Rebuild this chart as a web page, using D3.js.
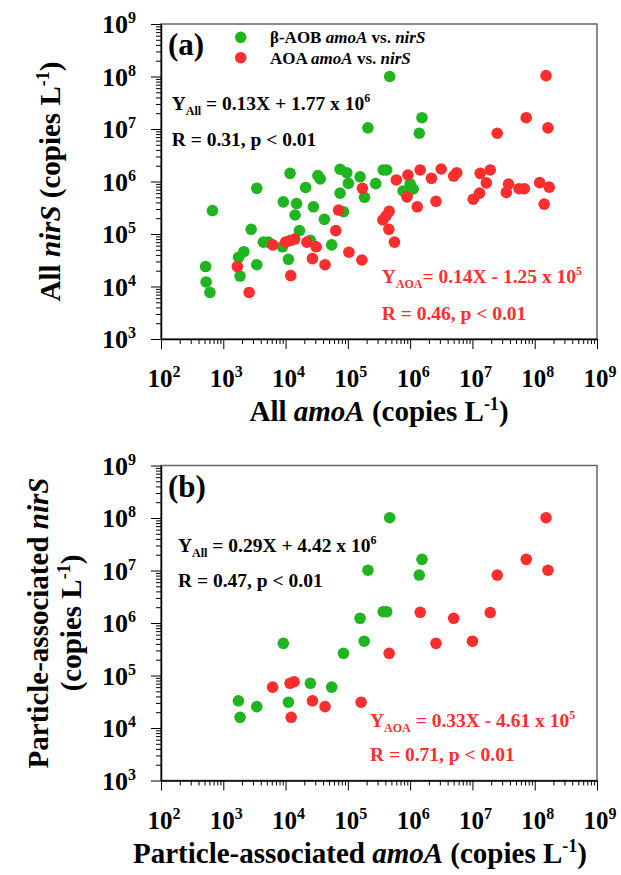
<!DOCTYPE html>
<html>
<head>
<meta charset="utf-8">
<script src="https://cdn.jsdelivr.net/npm/d3@7"></script>
<style>
  body { margin: 0; background: #fff; }
  svg { display: block; }
  svg text { font-family: "Liberation Serif", "Times New Roman", Tinos, "DejaVu Serif", serif; font-weight: bold; }
</style>
</head>
<body>
<div id="chart"></div>
<script>
// (a) all amoA vs. all nirS (copies per litre)
const aobAllX = [4.7e5, 1.55e6, 2.1e5, 1.4e6, 1.18e4, 3.3e4, 3.6e4, 7.5e4, 9.6e4, 1.02e5,
  1.57e5, 2.8e5, 3.7e5, 4.2e5, 3.45e3, 2.1e4, 7.5e4, 1.85e5, 6.7e2, 9.2e3,
  1.5e4, 2.8e4, 1.42e4, 8.5e4, 4.2e4, 2.8e3, 1.67e4, 4.4e3, 5.3e3, 8.9e3,
  2.5e4, 5.5e4, 2.14e3, 1.76e3, 1.11e4, 3.45e3, 5.2e2, 5.3e2, 6.1e2, 1.86e3,
  7.7e5, 1.0e6, 1.12e6, 9.0e5];
const aobAllY = [1.0e8, 1.64e7, 1.05e7, 8.3e6, 1.43e6, 1.3e6, 1.12e6, 1.71e6, 1.47e6, 9.2e5,
  1.23e6, 9.1e5, 1.66e6, 1.66e6, 7.4e5, 7.7e5, 6.0e5, 5.0e5, 2.8e5, 4.1e5,
  3.8e5, 3.3e5, 2.3e5, 2.66e5, 1.9e5, 1.23e5, 1.16e5, 7.0e4, 7.0e4, 5.7e4,
  7.6e4, 6.2e4, 4.6e4, 3.6e4, 3.3e4, 2.6e4, 2.4e4, 1.22e4, 7.7e3, 1.58e4,
  6.6e5, 9.0e5, 7.2e5, 5.8e5];
const aoaAllX = [1.52e8, 7.3e7, 1.63e8, 2.5e7, 6.0e5, 9.2e5, 1.45e6, 2.2e6, 3.15e6, 5.0e6,
  5.6e6, 1.33e7, 1.93e7, 1.67e7, 3.8e7, 3.5e7, 5.6e7, 6.8e7, 1.2e8, 1.71e8,
  1.42e8, 1.3e7, 1.03e7, 8.9e5, 1.3e6, 2.6e6, 4.6e5, 4.1e5, 3.65e5, 4.55e5,
  5.6e5, 1.71e5, 7.1e4, 6.4e4, 1.04e5, 1.68e5, 4.3e4, 2.7e4, 3.1e4, 2.2e4,
  1.0e4, 1.19e4, 1.4e4, 6.2e3, 1.21e4, 1.68e3, 2.6e3];
const aoaAllY = [1.04e8, 1.64e7, 1.05e7, 8.3e6, 1.07e6, 1.33e6, 1.66e6, 1.15e6, 1.73e6, 1.27e6,
  1.47e6, 1.43e6, 1.66e6, 9.4e5, 8.9e5, 6.2e5, 7.3e5, 7.3e5, 9.5e5, 7.8e5,
  3.7e5, 6.0e5, 4.6e5, 5.1e5, 3.3e5, 4.2e5, 2.7e5, 2.2e5, 1.85e5, 1.23e5,
  7.0e4, 7.4e5, 2.86e5, 1.16e5, 4.5e4, 3.2e4, 2.6e4, 3.4e4, 5.7e4, 7.0e4,
  7.0e4, 7.5e4, 8.0e4, 6.2e4, 1.61e4, 2.4e4, 7.7e3];

// (b) particle-associated amoA vs. nirS
const aobPaX = [4.7e5, 1.55e6, 2.1e5, 1.4e6, 1.57e5, 3.7e5, 4.2e5, 9.2e3, 1.83e5, 8.5e4,
  2.5e4, 5.5e4, 1.75e3, 3.45e3, 1.11e4, 1.86e3];
const aobPaY = [1.01e8, 1.63e7, 1.01e7, 8.2e6, 1.23e6, 1.64e6, 1.64e6, 4.1e5, 4.5e5, 2.65e5,
  7.1e4, 6.0e4, 3.3e4, 2.55e4, 3.1e4, 1.6e4];
const aoaPaX = [1.52e8, 7.3e7, 1.63e8, 2.5e7, 1.45e6, 5.0e6, 1.93e7, 2.6e6, 1.0e7, 4.6e5,
  6.2e3, 1.18e4, 1.37e4, 2.7e4, 4.3e4, 1.23e4, 1.63e5];
const aoaPaY = [1.01e8, 1.63e7, 1.01e7, 8.2e6, 1.6e6, 1.23e6, 1.58e6, 4.1e5, 4.5e5, 2.65e5,
  6.0e4, 7.1e4, 7.6e4, 3.3e4, 2.55e4, 1.6e4, 3.1e4];

const xDecades = [2, 3, 4, 5, 6, 7, 8, 9];
const yDecades = [3, 4, 5, 6, 7, 8, 9];

const green = "#1fb51f";
const red = "#ff2e2e";
const width = 621;
const height = 875;
const radius = 5.8;
const serif = "'Liberation Serif', 'Times New Roman', Tinos, 'DejaVu Serif', serif";

const svg = d3.select("#chart").append("svg")
  .attr("width", width)
  .attr("height", height)
  .attr("font-family", serif)
  .attr("font-weight", "bold");

const x = d3.scaleLog().domain([1e2, 1e9]).range([161, 597]);

function power(text, exp, supSize, lift) {
  text.append("tspan").text("10");
  text.append("tspan").attr("font-size", supSize).attr("dy", -lift).text(exp);
}

function renderPanel({ top, label, aob, aoa, eqAll, eqAoa, legend, yTitle, xTitle }) {
  const bottom = top + 315;
  const y = d3.scaleLog().domain([1e3, 1e9]).range([bottom, top]);
  const g = svg.append("g");
  const isMajor = (d) => Math.abs(Math.log10(d) - Math.round(Math.log10(d))) < 1e-9;

  // frame: grey top/right, black axes
  g.append("rect")
    .attr("x", x.range()[0]).attr("y", top)
    .attr("width", x.range()[1] - x.range()[0]).attr("height", bottom - top)
    .attr("fill", "none").attr("stroke", "#666").attr("stroke-width", 1.5);

  const xAxisG = g.append("g")
    .attr("transform", `translate(0,${bottom})`)
    .call(d3.axisBottom(x).tickValues(x.ticks()).tickFormat("").tickSizeInner(5).tickSizeOuter(0));
  const yAxisG = g.append("g")
    .attr("transform", `translate(${x.range()[0]},0)`)
    .call(d3.axisLeft(y).tickValues(y.ticks()).tickFormat("").tickSizeInner(5).tickSizeOuter(0));
  [xAxisG, yAxisG].forEach((a) => {
    a.select(".domain").attr("stroke", "#000").attr("stroke-width", 1.5);
    a.selectAll(".tick line").attr("stroke", "#000").attr("stroke-width", 1);
  });
  xAxisG.selectAll(".tick").filter(isMajor).select("line").attr("y2", 10);
  yAxisG.selectAll(".tick").filter(isMajor).select("line").attr("x2", -10);

  xDecades.forEach((e) => {
    const t = g.append("text")
      .attr("x", x(Math.pow(10, e)) + 3).attr("y", bottom + 48)
      .attr("text-anchor", "middle").attr("font-size", 25);
    power(t, e, 16, 10);
  });
  yDecades.forEach((e) => {
    const t = g.append("text")
      .attr("x", 136).attr("y", y(Math.pow(10, e)) + 9)
      .attr("text-anchor", "end").attr("font-size", 26);
    power(t, e, 16, 10);
  });

  // points
  g.append("g").selectAll("circle")
    .data(d3.zip(aob.x, aob.y))
    .join("circle")
    .attr("cx", (d) => x(d[0])).attr("cy", (d) => y(d[1]))
    .attr("r", radius).attr("fill", green);
  g.append("g").selectAll("circle")
    .data(d3.zip(aoa.x, aoa.y))
    .join("circle")
    .attr("cx", (d) => x(d[0])).attr("cy", (d) => y(d[1]))
    .attr("r", radius).attr("fill", red);

  g.append("text")
    .attr("x", 168).attr("y", top + 31)
    .attr("font-size", 31).text(label);

  if (legend) {
    const rows = [
      { color: green, pre: "\u03b2-AOB " },
      { color: red, pre: "AOA " },
    ];
    rows.forEach((r, i) => {
      const cy = top + 13.3 + i * 20.4;
      g.append("circle").attr("cx", 240.7).attr("cy", cy).attr("r", radius).attr("fill", r.color);
      const t = g.append("text").attr("x", 270).attr("y", cy + 6).attr("font-size", 17);
      t.append("tspan").text(r.pre);
      t.append("tspan").attr("font-style", "italic").text("amoA");
      t.append("tspan").text(" vs. ");
      t.append("tspan").attr("font-style", "italic").text("nirS");
    });
  }

  [eqAll, eqAoa].forEach((eq) => {
    const t = g.append("text")
      .attr("x", eq.x).attr("y", eq.y)
      .attr("font-size", 19.5).attr("fill", eq.color);
    t.append("tspan").text("Y");
    t.append("tspan").attr("font-size", 12).attr("dy", 5).text(eq.sub);
    t.append("tspan").attr("dy", -5).text(eq.body);
    t.append("tspan").attr("font-size", 12).attr("dy", -8).text(eq.exp);
    g.append("text")
      .attr("x", eq.x).attr("y", eq.y + eq.gap)
      .attr("font-size", 19.5).attr("fill", eq.color)
      .text(eq.r);
  });

  // axis titles
  const yt = g.append("text")
    .attr("text-anchor", "middle").attr("font-size", 29)
    .attr("transform", `translate(${yTitle.x},${(top + bottom) / 2})rotate(-90)`);
  yTitle.lines.forEach((line, i) => {
    const ts = yt.append("tspan").attr("x", 0).attr("dy", i === 0 ? 0 : yTitle.lineGap);
    line.forEach((part) => {
      const p = ts.append("tspan").text(part.t);
      if (part.i) p.attr("font-style", "italic");
      if (part.sup) p.attr("font-size", 18).attr("dy", -11);
      if (part.down) p.attr("dy", 11);
    });
  });

  const xt = g.append("text")
    .attr("x", xTitle.x).attr("y", bottom + xTitle.dy)
    .attr("text-anchor", "middle").attr("font-size", 29);
  xTitle.parts.forEach((part) => {
    const p = xt.append("tspan").text(part.t);
    if (part.i) p.attr("font-style", "italic");
    if (part.sup) p.attr("font-size", 18).attr("dy", -11);
    if (part.down) p.attr("dy", 11);
  });
}

renderPanel({
  top: 24,
  label: "(a)",
  aob: { x: aobAllX, y: aobAllY },
  aoa: { x: aoaAllX, y: aoaAllY },
  legend: true,
  eqAll: { x: 171.7, y: 110, gap: 36, color: "#000", sub: "All",
    body: " = 0.13X + 1.77 x 10", exp: "6", r: "R = 0.31, p < 0.01" },
  eqAoa: { x: 381.7, y: 283.3, gap: 36.7, color: red, sub: "AOA",
    body: "= 0.14X - 1.25 x 10", exp: "5", r: "R = 0.46, p < 0.01" },
  yTitle: { x: 60, lineGap: 0, lines: [[
    { t: "All " }, { t: "nirS", i: true }, { t: " (copies L" },
    { t: "-1", sup: true }, { t: ")", down: true }]] },
  xTitle: { x: 379, dy: 82, parts: [
    { t: "All " }, { t: "amoA", i: true }, { t: " (copies L" },
    { t: "-1", sup: true }, { t: ")", down: true }] },
});

renderPanel({
  top: 465.5,
  label: "(b)",
  aob: { x: aobPaX, y: aobPaY },
  aoa: { x: aoaPaX, y: aoaPaY },
  legend: false,
  eqAll: { x: 178, y: 551.7, gap: 35, color: "#000", sub: "All",
    body: " = 0.29X + 4.42 x 10", exp: "6", r: "R = 0.47, p < 0.01" },
  eqAoa: { x: 370, y: 726.7, gap: 34, color: red, sub: "AOA",
    body: " = 0.33X - 4.61 x 10", exp: "5", r: "R = 0.71, p < 0.01" },
  yTitle: { x: 48, lineGap: 33, lines: [
    [{ t: "Particle-associated " }, { t: "nirS", i: true }],
    [{ t: "(copies L" }, { t: "-1", sup: true }, { t: ")", down: true }]] },
  xTitle: { x: 360, dy: 82, parts: [
    { t: "Particle-associated " }, { t: "amoA", i: true }, { t: " (copies L" },
    { t: "-1", sup: true }, { t: ")", down: true }] },
});
</script>
</body>
</html>
